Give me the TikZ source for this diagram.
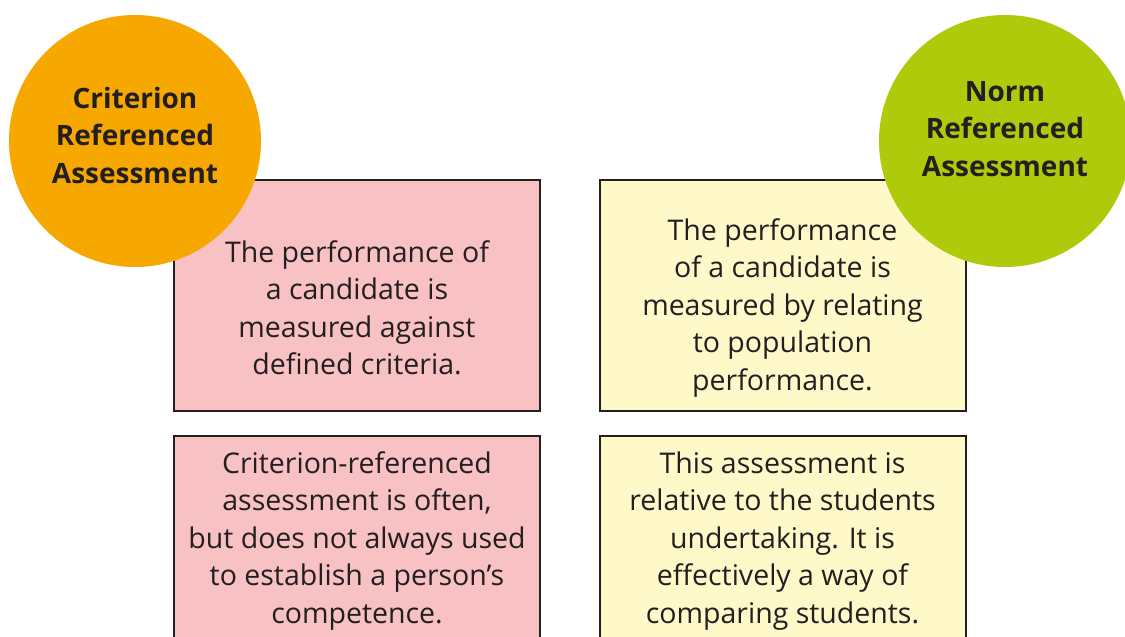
\documentclass[tikz,border=0pt]{standalone}
\usepackage{fontspec}
\setmainfont{Open Sans}
\definecolor{orangec}{HTML}{F6A800}
\definecolor{greenc}{HTML}{AFCA0B}
\definecolor{pinkc}{HTML}{F8C1C3}
\definecolor{yellowc}{HTML}{FFF8C8}
\definecolor{inkc}{HTML}{231F20}
\tikzset{
  box/.style={draw=inkc, line width=2pt, rectangle, minimum width=366pt, inner sep=0pt},
  boxtext/.style={align=center, text=inkc, font=\fontsize{28.5}{37.5}\selectfont, inner sep=0pt},
  disc/.style={circle, minimum size=252pt, inner sep=0pt},
  disctext/.style={align=center, text=inkc, font=\bfseries\fontsize{28}{37.5}\selectfont, inner sep=0pt},
}
\begin{document}
\begin{tikzpicture}[x=1pt,y=-1pt]
\useasboundingbox (0,0) rectangle (1125,637);
\clip (0,0) rectangle (1125,637);
\fill[white] (0,0) rectangle (1125,637);
% boxes
\node[box, fill=pinkc, minimum height=231pt] (b1) at (357,295.5) {};
\node[box, fill=pinkc, minimum height=234pt] (b3) at (357,553) {};
\node[box, fill=yellowc, minimum height=231pt] (b2) at (782.5,295.5) {};
\node[box, fill=yellowc, minimum height=234pt] (b4) at (782.5,553) {};
% texts
\node[boxtext] (t1) at (357,308) {The performance of\\a candidate is\\measured against\\defined criteria.};
\node[boxtext] (t2) at (782.5,308) {The performance\\of a candidate is\\measured by relating\\to population\\performance.};
\node[boxtext] (t3) at (357,541) {Criterion-referenced\\assessment is often,\\but does not always used\\to establish a person’s\\competence.};
\node[boxtext] (t4) at (782.5,541) {This assessment is\\relative to the students\\undertaking. It is\\effectively a way of\\comparing students.};
% circles
\node[disc, fill=orangec] (c1) at (135,141) {};
\node[disc, fill=greenc] (c2) at (1005,141) {};
\node[disctext] (c1t) at (135,135) {Criterion\\Referenced\\Assessment};
\node[disctext] (c2t) at (1005,129) {Norm\\Referenced\\Assessment};
\end{tikzpicture}
\end{document}
